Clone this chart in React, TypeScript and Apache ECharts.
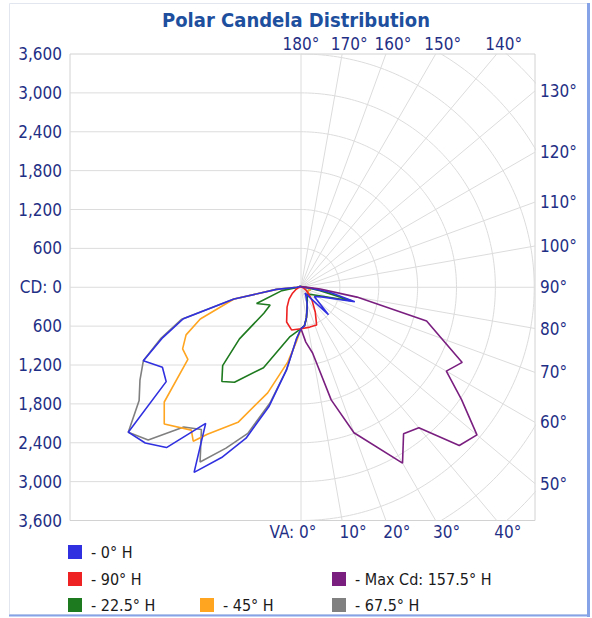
import React, { useEffect, useRef } from "react";
import * as echarts from "echarts";

// ---------- data ----------
const CD_MAX = 3600;
const CD_STEP = 600;
const ANGLE_TICKS = [0, 10, 20, 30, 40, 50, 60, 70, 80, 90, 100, 110, 120, 130, 140, 150, 160, 170, 180];
const ARC_RADII = [600, 1200, 1800, 2400, 3000, 3600, 4200, 4800];

// [vertical angle (deg from nadir), candela]
const h0Left: [number, number][] = [[0, 640], [5, 800], [10, 1300], [15, 1900], [20, 2480], [25, 2900], [30, 3300], [35, 2565], [40, 3230], [45, 3400], [50, 3480], [55, 2540], [60, 2470], [65, 2685], [70, 2270], [75, 1880], [80, 1050], [85, 380], [90, 60], [105, 30], [135, 20], [180, 10]];
const h180Right: [number, number][] = [[0, 640], [5, 600], [10, 480], [15, 360], [20, 280], [30, 150], [35, 110], [45, 600], [55, 250], [65, 350], [75, 860], [80, 450], [85, 150], [90, 40], [105, 20], [180, 10]];

const h90Left: [number, number][] = [[0, 640], [12.5, 675], [22.5, 580], [35, 375], [45, 260], [55, 160], [65, 90], [75, 50], [90, 15], [180, 5]];
const h270Right: [number, number][] = [[0, 640], [12.5, 630], [22.5, 630], [30, 440], [40, 265], [50, 150], [60, 90], [75, 40], [90, 15], [180, 5]];

const h22Left: [number, number][] = [[0, 640], [12.5, 780], [25, 1370], [35, 1790], [40, 1900], [45, 1710], [50, 1240], [55, 700], [60, 550], [70, 730], [80, 300], [90, 40], [105, 20], [180, 10]];
const h202Right: [number, number][] = [[0, 640], [5, 600], [10, 480], [15, 360], [20, 280], [30, 190], [45, 150], [60, 240], [75, 820], [80, 300], [85, 100], [90, 40], [105, 20], [180, 10]];

const h45Left: [number, number][] = [[0, 640], [5, 850], [10, 1170], [17.5, 1710], [25, 2300], [32.5, 2690], [35, 2900], [37.5, 2780], [45, 2985], [50, 2755], [57.5, 2070], [62.5, 2060], [67.5, 1920], [72.5, 1630], [80, 1050], [85, 380], [90, 60], [105, 30], [135, 20], [180, 10]];
const h225Right: [number, number][] = [[0, 640], [5, 600], [10, 480], [15, 360], [20, 280], [30, 190], [45, 140], [60, 120], [75, 150], [85, 100], [90, 40], [105, 20], [180, 10]];

const h67Left: [number, number][] = [[0, 640], [5, 800], [10, 1300], [15, 1850], [20, 2400], [25, 2740], [30, 3115], [35, 2680], [40, 2815], [45, 3335], [50, 3480], [55, 3050], [60, 2870], [65, 2685], [70, 2300], [75, 1905], [80, 1060], [85, 390], [90, 60], [105, 30], [135, 20], [180, 10]];
const h247Right: [number, number][] = [[0, 640], [5, 600], [10, 480], [15, 360], [20, 280], [30, 190], [45, 140], [60, 120], [75, 150], [85, 100], [90, 40], [105, 20], [180, 10]];

const h157Right: [number, number][] = [[0, 640], [5, 850], [10, 1030], [15, 1800], [20, 2390], [30, 3134], [35, 2760], [40, 2830], [45, 3455], [50, 3545], [55, 3025], [60, 2590], [65, 2745], [75, 2007], [80, 877], [85, 300], [90, 100], [105, 30], [180, 10]];

const NAMES = ["0° H", "90° H", "22.5° H", "45° H", "67.5° H", "Max Cd: 157.5° H"];
const COLORS = ["#3030e0", "#ee2222", "#1e7a1e", "#ffa520", "#808080", "#7a1f80"];

// ---------- layout ----------
const W = 592;
const H = 618;
const GRID = { left: 70, top: 54, right: 57, bottom: 97.5 };
const CENTER_X = 301;
const FONT = "'DejaVu Sans Condensed', 'DejaVu Sans', sans-serif";
const LABEL_COLOR = "#1f2f85";
const GRID_COLOR = "#dcdcdc";

export default function App() {
  const ref = useRef<HTMLDivElement>(null);

  useEffect(() => {
    if (!ref.current) return;
    const chart = echarts.init(ref.current, null, { renderer: "svg" });

    const plotH = H - GRID.top - GRID.bottom;
    const pxPerCd = plotH / (2 * CD_MAX);
    const xMin = -(CENTER_X - GRID.left) / pxPerCd;
    const xMax = (W - GRID.right - CENTER_X) / pxPerCd;

    const rad = (d: number) => (d * Math.PI) / 180;
    const toXY = (side: number, pts: [number, number][]) =>
      pts.map(([va, cd]) => [side * cd * Math.sin(rad(va)), -cd * Math.cos(rad(va))]);
    const loop = (l: [number, number][], r: [number, number][]) => [...toXY(-1, l), ...toXY(1, r).reverse()];

    // horizontal grid lines on the left half
    const yTicks: number[] = [];
    for (let v = -CD_MAX + CD_STEP; v < CD_MAX; v += CD_STEP) yTicks.push(v);
    const hLines: any[] = [];
    yTicks.forEach((v) => hLines.push([xMin, v], [0, v], "-"));

    // polar arcs on the right half
    const arcs: any[] = [];
    ARC_RADII.forEach((r) => {
      for (let a = 0; a <= 180; a += 1) arcs.push([r * Math.sin(rad(a)), -r * Math.cos(rad(a))]);
      arcs.push("-");
    });

    // radial lines, ending at the plot border
    const borderHit = (a: number) => {
      const s = Math.sin(rad(a));
      const c = -Math.cos(rad(a));
      let t = Infinity;
      let side = "right";
      if (s > 1e-9) t = xMax / s;
      if (Math.abs(c) > 1e-9) {
        const tv = CD_MAX / Math.abs(c);
        if (tv < t) {
          t = tv;
          side = c > 0 ? "top" : "bottom";
        }
      }
      return { x: t * s, y: t * c, side };
    };
    const radials: any[] = [];
    const angleLabels: any[] = [];
    ANGLE_TICKS.forEach((a) => {
      const p = borderHit(a);
      radials.push([0, 0], [p.x, p.y], "-");
      let offset = [0, 0];
      if (p.side === "top") offset = a === 180 ? [0, 0] : [7, 0];
      if (p.side === "bottom") offset = a === 0 ? [-8, 0] : [11, 0];
      angleLabels.push({
        value: [p.x, p.y],
        name: a === 0 ? "VA: 0°" : `${a}°`,
        label: {
          position: p.side,
          distance: p.side === "right" ? 5 : p.side === "top" ? 2 : 3,
          offset,
        },
      });
    });

    const lineSeries = (name: string, data: any[], color: string, z: number) => ({
      name,
      type: "line",
      data,
      showSymbol: false,
      symbol: "none",
      clip: true,
      z,
      itemStyle: { color },
      lineStyle: { color, width: 1.6 },
      emphasis: { disabled: true },
    });

    const curves = [
      lineSeries(NAMES[4], loop(h67Left, h247Right), COLORS[4], 5),
      lineSeries(NAMES[3], loop(h45Left, h225Right), COLORS[3], 6),
      lineSeries(NAMES[2], loop(h22Left, h202Right), COLORS[2], 7),
      lineSeries(NAMES[1], loop(h90Left, h270Right), COLORS[1], 8),
      lineSeries(NAMES[0], loop(h0Left, h180Right), COLORS[0], 9),
      lineSeries(NAMES[5], toXY(1, h157Right), COLORS[5], 10),
    ];

    const gridSeries = (name: string, data: any[]) => ({
      name,
      type: "line",
      data,
      showSymbol: false,
      symbol: "none",
      clip: true,
      silent: true,
      z: 1,
      connectNulls: false,
      lineStyle: { color: GRID_COLOR, width: 1 },
      itemStyle: { color: GRID_COLOR },
    });

    const legendPos = [
      { name: NAMES[0], left: 68, top: 544 },
      { name: NAMES[1], left: 68, top: 571 },
      { name: NAMES[5], left: 332, top: 571 },
      { name: NAMES[2], left: 68, top: 597 },
      { name: NAMES[3], left: 200, top: 597 },
      { name: NAMES[4], left: 332, top: 597 },
    ];

    chart.setOption({
      animation: false,
      backgroundColor: "#ffffff",
      title: {
        text: "Polar Candela Distribution",
        left: "center",
        top: 5,
        textStyle: { fontFamily: FONT, fontSize: 20, fontWeight: "bold", color: "#1d4f9e" },
      },
      legend: legendPos.map((l) => ({
        data: [l.name],
        left: l.left,
        top: l.top,
        padding: 0,
        itemWidth: 14,
        itemHeight: 14,
        icon: "rect",
        selectedMode: false,
        formatter: (n: string) => `- ${n}`,
        textStyle: { fontFamily: FONT, fontSize: 16, color: "#1a1a1a", padding: [0, 0, 0, 4] },
      })),
      grid: {
        left: GRID.left,
        top: GRID.top,
        right: GRID.right,
        bottom: GRID.bottom,
        show: true,
        borderColor: "#d2d2d2",
        borderWidth: 1,
        backgroundColor: "#ffffff",
      },
      xAxis: {
        type: "value",
        min: xMin,
        max: xMax,
        show: false,
      },
      yAxis: {
        type: "value",
        min: -CD_MAX,
        max: CD_MAX,
        interval: CD_STEP,
        axisLine: { show: false },
        axisTick: { show: false },
        splitLine: { show: false },
        axisLabel: {
          margin: 8,
          fontFamily: FONT,
          fontSize: 17,
          color: LABEL_COLOR,
          formatter: (v: number) => (v === 0 ? "CD: 0" : Math.abs(v).toLocaleString("en-US")),
        },
      },
      graphic: [
        { type: "rect", shape: { x: 9.5, y: 3.5, width: 578, height: 611 }, style: { fill: "none", stroke: "#e2e6ee", lineWidth: 1 }, silent: true },
        { type: "line", shape: { x1: 588.5, y1: 3, x2: 588.5, y2: 617 }, style: { stroke: "#86a3e8", lineWidth: 3 }, silent: true },
        { type: "line", shape: { x1: 9, y1: 615.5, x2: 590, y2: 615.5 }, style: { stroke: "#86a3e8", lineWidth: 2 }, silent: true },
      ],
      series: [
        gridSeries("hgrid", hLines),
        gridSeries("arcs", arcs),
        gridSeries("radials", radials),
        ...curves,
        {
          name: "angle-labels",
          type: "scatter",
          data: angleLabels,
          symbolSize: 0,
          silent: true,
          clip: false,
          z: 3,
          itemStyle: { opacity: 1 },
          label: {
            show: true,
            formatter: (p: any) => p.name,
            fontFamily: FONT,
            fontSize: 17,
            color: LABEL_COLOR,
            opacity: 1,
          },
        },
      ],
    });

    return () => chart.dispose();
  }, []);

  return <div ref={ref} style={{ position: "fixed", left: 0, top: 0, width: W, height: H }} />;
}
